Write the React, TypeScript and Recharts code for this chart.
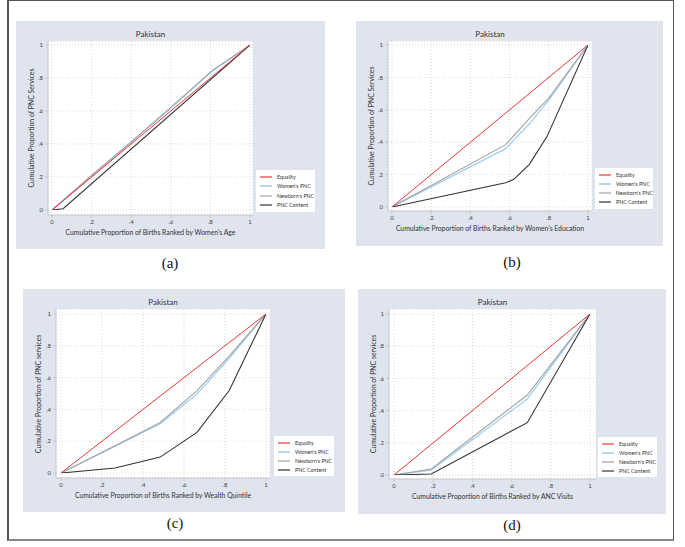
import React from "react";
import { LineChart, Line, XAxis, YAxis, CartesianGrid } from "recharts";

// ---------- data ----------
const seriesNames = ["Equality", "Women's PNC", "Newborn's PNC", "PNC Content"];
const equalityX = [0, 1];
const equalityY = [0, 1];

// (a) Women's Age
const ageWomenX = [0, 0.2, 0.4, 0.6, 0.81, 1];
const ageWomenY = [0, 0.207, 0.41, 0.618, 0.842, 1];
const ageNewbornY = [0, 0.209, 0.412, 0.622, 0.846, 1];
const ageContentX = [0, 0.056, 1];
const ageContentY = [0, 0.008, 1];

// (b) Women's Education
const eduX = [0, 0.58, 0.7, 0.8, 1];
const eduWomenY = [0, 0.36, 0.512, 0.66, 1];
const eduNewbornY = [0, 0.385, 0.545, 0.672, 1];
const eduContentX = [0, 0.58, 0.62, 0.7, 0.79, 1];
const eduContentY = [0, 0.15, 0.169, 0.262, 0.433, 1];

// (c) Wealth Quintile
const wealthX = [0, 0.264, 0.484, 0.663, 0.82, 1];
const wealthWomenY = [0, 0.169, 0.31, 0.496, 0.72, 1];
const wealthNewbornY = [0, 0.172, 0.318, 0.517, 0.735, 1];
const wealthContentY = [0, 0.031, 0.1, 0.255, 0.517, 1];

// (d) ANC Visits
const ancX = [0, 0.19, 0.68, 1];
const ancWomenY = [0, 0.031, 0.472, 1];
const ancNewbornY = [0, 0.037, 0.497, 1];
const ancContentY = [0, 0.006, 0.325, 1];

const axisTicks = [0, 0.2, 0.4, 0.6, 0.8, 1];
const titleText = "Pakistan";

// ---------- helpers ----------
const zip = (xs: number[], ys: number[]) => xs.map((x, i) => ({ x, y: ys[i] }));
const fmt = (v: number) => (v === 0 ? "0" : v === 1 ? "1" : "." + Math.round(v * 10));

const COLORS = ["#e5393a", "#9fd0ee", "#a3a3a3", "#333333"];
const WIDTHS = [1, 1.3, 1.1, 1.1];
const DRAW_ORDER = [1, 2, 3, 0];
const FONT = "Lato, 'Open Sans', sans-serif";

type PanelProps = {
  bx: number; by: number; bw: number; bh: number;
  wl: number; wr: number; wt: number; wb: number;
  pad: { l: number; r: number; t: number; b: number };
  data: { x: number; y: number }[][];
  xLabel: string; yLabel: string;
  legend: { x: number; y: number; w: number; h: number };
  caption: string; capX: number; capY: number;
};

function Panel(p: PanelProps) {
  const xAxisH = 14;
  const margin = {
    top: p.wt - p.by,
    right: p.bx + p.bw - p.wr,
    bottom: p.by + p.bh - p.wb - xAxisH,
    left: 0,
  };
  const cx = (p.wl + p.wr) / 2;
  const cy = (p.wt + p.wb) / 2;
  const rowH = (p.legend.h - 4) / 4;
  return (
    <>
      <div style={{ position: "absolute", left: p.bx, top: p.by, width: p.bw, height: p.bh, background: "#dfe4ee" }}>
        <LineChart width={p.bw} height={p.bh} margin={margin}>
          <CartesianGrid fill="#ffffff" stroke="#d9d9d9" strokeDasharray="1 2" />
          <XAxis
            type="number" dataKey="x" domain={[0, 1]} ticks={axisTicks} tickFormatter={fmt}
            height={xAxisH} padding={{ left: p.pad.l, right: p.pad.r }}
            stroke="#c8c8c8" tickSize={3}
            tick={{ fontSize: 6, fill: "#444", fontFamily: FONT }} allowDataOverflow
          />
          <YAxis
            type="number" dataKey="y" domain={[0, 1]} ticks={axisTicks} tickFormatter={fmt}
            width={p.wl - p.bx} padding={{ top: p.pad.t, bottom: p.pad.b }}
            stroke="#c8c8c8" tickSize={3}
            tick={{ fontSize: 6, fill: "#444", fontFamily: FONT }} allowDataOverflow
          />
          {DRAW_ORDER.map((i) => (
            <Line key={i} data={p.data[i]} dataKey="y" type="linear" stroke={COLORS[i]} strokeWidth={WIDTHS[i]}
              dot={false} activeDot={false} isAnimationActive={false} name={seriesNames[i]} />
          ))}
        </LineChart>
      </div>
      {/* title */}
      <div style={{ position: "absolute", left: cx, top: p.wt - 7, transform: "translate(-50%,-50%)", fontSize: 8, fontFamily: FONT, color: "#333", whiteSpace: "nowrap" }}>{titleText}</div>
      {/* x label */}
      <div style={{ position: "absolute", left: cx, top: p.wb + 17, transform: "translate(-50%,-50%)", fontSize: 6.8, fontFamily: FONT, color: "#333", whiteSpace: "nowrap" }}>{p.xLabel}</div>
      {/* y label */}
      <div style={{ position: "absolute", left: p.bx + 15, top: cy, transform: "translate(-50%,-50%) rotate(-90deg)", fontSize: 6.9, fontFamily: FONT, color: "#333", whiteSpace: "nowrap" }}>{p.yLabel}</div>
      {/* legend */}
      <div style={{ position: "absolute", left: p.legend.x, top: p.legend.y, width: p.legend.w, height: p.legend.h, background: "#fff", boxSizing: "border-box", paddingTop: 2 }}>
        {seriesNames.map((n, i) => (
          <div key={n} style={{ display: "flex", alignItems: "center", height: rowH, fontSize: 5.3, fontFamily: FONT, color: "#333", whiteSpace: "nowrap" }}>
            <svg width={12} height={4} style={{ marginLeft: 4, marginRight: 5, display: "block" }}>
              <line x1={0} y1={2} x2={12} y2={2} stroke={COLORS[i]} strokeWidth={i === 1 ? 1.6 : 1.2} />
            </svg>
            {n}
          </div>
        ))}
      </div>
      {/* caption */}
      <div style={{ position: "absolute", left: p.capX, top: p.capY, transform: "translate(-50%,-50%)", fontSize: 15, fontFamily: "'Liberation Serif', serif", color: "#111" }}>{p.caption}</div>
    </>
  );
}

export default function App() {
  const eq = zip(equalityX, equalityY);
  const panels: PanelProps[] = [
    {
      bx: 16, by: 21, bw: 309, bh: 228, wl: 48, wr: 253, wt: 41, wb: 215,
      pad: { l: 4, r: 3, t: 4, b: 5 },
      data: [eq, zip(ageWomenX, ageWomenY), zip(ageWomenX, ageNewbornY), zip(ageContentX, ageContentY)],
      xLabel: "Cumulative Proportion of Births Ranked by Women's Age",
      yLabel: "Cumulative Proportion of PNC Services",
      legend: { x: 256, y: 170, w: 59, h: 42 }, caption: "(a)", capX: 170, capY: 263,
    },
    {
      bx: 356, by: 21, bw: 307, bh: 225, wl: 388, wr: 592, wt: 41, wb: 211,
      pad: { l: 4, r: 4, t: 4, b: 4 },
      data: [eq, zip(eduX, eduWomenY), zip(eduX, eduNewbornY), zip(eduContentX, eduContentY)],
      xLabel: "Cumulative Proportion of Births Ranked by Women's Education",
      yLabel: "Cumulative Proportion of PNC Services",
      legend: { x: 595, y: 168, w: 58, h: 41 }, caption: "(b)", capX: 512, capY: 262,
    },
    {
      bx: 23, by: 289, bw: 322, bh: 223, wl: 56, wr: 270, wt: 309, wb: 478,
      pad: { l: 5, r: 4, t: 5, b: 5 },
      data: [eq, zip(wealthX, wealthWomenY), zip(wealthX, wealthNewbornY), zip(wealthX, wealthContentY)],
      xLabel: "Cumulative Proportion of Births Ranked by Wealth Quintile",
      yLabel: "Cumulative Proportion of PNC services",
      legend: { x: 274, y: 436, w: 60, h: 40 }, caption: "(c)", capX: 175, capY: 523,
    },
    {
      bx: 358, by: 289, bw: 308, bh: 225, wl: 389, wr: 596, wt: 309, wb: 479,
      pad: { l: 5, r: 6, t: 5, b: 4 },
      data: [eq, zip(ancX, ancWomenY), zip(ancX, ancNewbornY), zip(ancX, ancContentY)],
      xLabel: "Cumulative Proportion of Births Ranked by ANC Visits",
      yLabel: "Cumulative Proportion of PNC services",
      legend: { x: 598, y: 437, w: 59, h: 40 }, caption: "(d)", capX: 512, capY: 525,
    },
  ];
  return (
    <div style={{ position: "absolute", left: 0, top: 0, width: 685, height: 547, background: "#fff", overflow: "hidden" }}>
      <div style={{ position: "absolute", left: 7, top: 0, width: 667, height: 541, border: "1px solid #555", borderLeftWidth: 2, borderBottomWidth: 2, borderBottomColor: "#888", boxSizing: "border-box" }} />
      {panels.map((p, i) => <Panel key={i} {...p} />)}
    </div>
  );
}
